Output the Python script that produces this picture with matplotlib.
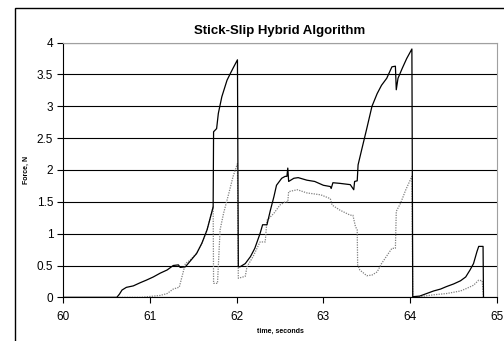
import matplotlib
matplotlib.use("Agg")
import matplotlib.pyplot as plt
from matplotlib.patches import Rectangle

plt.rcParams['font.family'] = ['Liberation Sans', 'DejaVu Sans']

# solid trace: time (s), force (N)
t_solid = [60.0, 60.62, 60.65, 60.68, 60.73, 60.81, 60.89, 60.96, 61.04, 61.12,
           61.2, 61.27, 61.33, 61.35, 61.41, 61.46, 61.54, 61.6, 61.66, 61.73,
           61.735, 61.77, 61.79, 61.83, 61.89, 61.93, 61.96, 62.01,
           62.02, 62.04, 62.1, 62.16, 62.21, 62.27, 62.3, 62.35, 62.39, 62.43,
           62.46, 62.52, 62.56, 62.58, 62.59, 62.6, 62.66, 62.71, 62.81, 62.9,
           63.0, 63.08, 63.09, 63.11, 63.19, 63.31, 63.35, 63.36, 63.39, 63.40,
           63.44, 63.5, 63.56, 63.62, 63.67, 63.73, 63.79, 63.83, 63.84, 63.86,
           63.91, 63.96, 64.02, 64.03, 64.11, 64.19, 64.27, 64.35, 64.42, 64.5,
           64.58, 64.64, 64.69, 64.73, 64.77, 64.79, 64.84, 64.845]
f_solid = [0.0, 0.0, 0.05, 0.115, 0.157, 0.18, 0.23, 0.27, 0.32, 0.38,
           0.43, 0.50, 0.51, 0.47, 0.48, 0.56, 0.69, 0.85, 1.06, 1.42,
           2.6, 2.65, 2.89, 3.15, 3.41, 3.52, 3.6, 3.73,
           0.48, 0.48, 0.53, 0.64, 0.77, 1.0, 1.14, 1.14, 1.37, 1.58,
           1.76, 1.87, 1.9, 1.9, 2.03, 1.82, 1.87, 1.88, 1.84, 1.82,
           1.76, 1.74, 1.71, 1.80, 1.79, 1.77, 1.69, 1.82, 1.83, 2.08,
           2.31, 2.65, 3.0, 3.2, 3.33, 3.44, 3.62, 3.63, 3.26, 3.44,
           3.6, 3.75, 3.9, 0.01, 0.02, 0.06, 0.10, 0.13, 0.17, 0.21,
           0.26, 0.32, 0.43, 0.53, 0.72, 0.80, 0.80, 0.0]

# dotted trace
t_dot = [60.62, 60.9, 61.12, 61.2, 61.27, 61.34, 61.37, 61.41, 61.46, 61.54,
         61.6, 61.66, 61.73, 61.735, 61.78, 61.81, 61.85, 61.91, 61.96, 62.01,
         62.02, 62.1, 62.12, 62.19, 62.27, 62.33, 62.35, 62.43, 62.5, 62.56,
         62.59, 62.6, 62.7, 62.81, 62.97, 63.08, 63.1, 63.19, 63.31, 63.34,
         63.37, 63.39, 63.395, 63.42, 63.5, 63.56, 63.62, 63.67, 63.75, 63.79,
         63.83, 63.84, 63.89, 63.95, 64.02, 64.03, 64.11, 64.27, 64.42, 64.58,
         64.65, 64.73, 64.79, 64.83, 64.845]
f_dot = [0.0, 0.0, 0.03, 0.06, 0.13, 0.16, 0.32, 0.53, 0.58, 0.69,
         0.85, 1.06, 1.42, 0.22, 0.22, 1.06, 1.32, 1.63, 1.9, 2.1,
         0.3, 0.33, 0.48, 0.64, 0.87, 0.87, 1.21, 1.32, 1.45, 1.5,
         1.5, 1.66, 1.69, 1.64, 1.61, 1.55, 1.45, 1.37, 1.29, 1.29,
         1.11, 1.06, 0.51, 0.43, 0.34, 0.35, 0.40, 0.53, 0.69, 0.77,
         0.77, 1.35, 1.48, 1.69, 1.9, 0.0, 0.01, 0.04, 0.06, 0.10,
         0.14, 0.19, 0.27, 0.26, 0.0]

fig = plt.figure(figsize=(5.04, 3.41), dpi=100)
ax = fig.add_axes([0.125, 0.128, 0.861, 0.747])

# outer chart frame (only left and top edges are visible)
fig.patches.append(Rectangle((15 / 504, -0.1), 1.2, 1.1 - 8 / 341,
                             transform=fig.transFigure, fill=False,
                             edgecolor="black", linewidth=1.0))

ax.plot(t_dot, f_dot, color="#808080", linestyle=(0, (1, 1)), linewidth=0.9)
ax.plot(t_solid, f_solid, color="black", linewidth=0.9)

ax.set_xlim(60, 65)
ax.set_ylim(0, 4)
ax.set_xticks([60, 61, 62, 63, 64, 65])
ax.set_yticks([0, 0.5, 1, 1.5, 2, 2.5, 3, 3.5, 4])
ax.set_yticklabels(["0", "0.5", "1", "1.5", "2", "2.5", "3", "3.5", "4"])
ax.yaxis.grid(True, color="black", linewidth=0.8)
ax.set_axisbelow(True)
ax.tick_params(direction="out", length=4, width=0.8, labelsize=8.5)
ax.tick_params(axis="x", pad=6)
ax.tick_params(axis="y", pad=3)
for s in ["top", "right"]:
    ax.spines[s].set_color("#a0a0a0")
for s in ["left", "bottom"]:
    ax.spines[s].set_linewidth(0.8)

ax.set_title("Stick-Slip Hybrid Algorithm", fontsize=9.5, fontweight="bold", pad=6)
ax.set_xlabel("time, seconds", fontsize=5, fontweight="bold", labelpad=3)
ax.set_ylabel("Force, N", fontsize=5, fontweight="bold", labelpad=5)

plt.savefig("out.png", dpi=100)
